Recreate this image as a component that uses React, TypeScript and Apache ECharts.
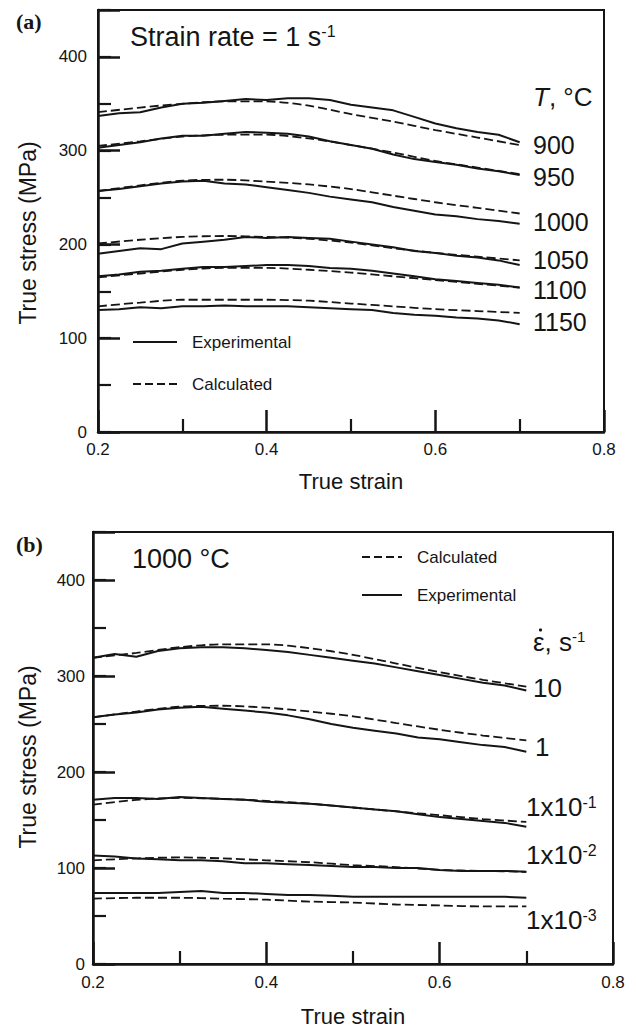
import React, { useEffect, useRef } from "react";
import * as echarts from "echarts";

const FF = '"Liberation Sans", Arial, Helvetica, sans-serif';
const INK = "#151515";

// strain grids
const strainExp = [0.2, 0.225, 0.25, 0.275, 0.3, 0.325, 0.35, 0.375, 0.4, 0.425, 0.45, 0.475, 0.5, 0.525, 0.55, 0.575, 0.6, 0.625, 0.65, 0.675, 0.7];
const strainCalc = [0.2, 0.25, 0.3, 0.35, 0.4, 0.45, 0.5, 0.55, 0.6, 0.65, 0.7];

// Panel (a): strain rate 1 s^-1, temperatures
const tempLabels = ["900", "950", "1000", "1050", "1100", "1150"];
const expA900 = [337, 340, 341, 346, 350, 351, 353, 355, 354, 356, 356, 354, 349, 346, 343, 336, 329, 324, 320, 317, 309];
const expA950 = [303, 306, 309, 313, 316, 316, 318, 320, 319, 318, 315, 310, 306, 302, 296, 291, 288, 285, 281, 278, 274];
const expA1000 = [257, 259, 262, 265, 267, 268, 265, 264, 261, 258, 255, 251, 248, 245, 240, 236, 232, 230, 227, 225, 222];
const expA1050 = [190, 193, 196, 195, 201, 203, 205, 208, 207, 208, 207, 206, 203, 200, 197, 193, 191, 188, 186, 183, 178];
const expA1100 = [166, 168, 171, 172, 174, 176, 176, 177, 178, 178, 177, 175, 174, 172, 169, 166, 163, 161, 159, 157, 154];
const expA1150 = [130, 131, 133, 132, 134, 134, 135, 134, 134, 134, 133, 132, 131, 130, 127, 125, 124, 122, 121, 119, 115];
const calcA900 = [341, 346, 350, 352.5, 352.5, 348, 339, 331, 322, 314, 306];
const calcA950 = [305, 310, 315, 317, 317, 313, 306, 298, 289, 282, 275];
const calcA1000 = [257, 263, 268, 269, 267, 264, 259, 252, 245, 239, 233];
const calcA1050 = [201, 205, 208, 209, 208, 206, 202, 196, 191, 187, 183];
const calcA1100 = [165, 169, 173, 175, 175, 173, 170, 166, 162, 158, 154];
const calcA1150 = [134, 138, 141, 141, 141, 140, 137, 134, 131, 129, 127];

// Panel (b): 1000 °C, strain rates
const rateLabels = ["10", "1", "1x10-1", "1x10-2", "1x10-3"];
const expB10 = [319, 323, 320, 326, 329, 330, 330, 329, 327, 325, 322, 319, 316, 313, 309, 305, 301, 297, 293, 290, 285];
const expB1 = [257, 260, 262, 265, 267, 268, 266, 264, 262, 259, 255, 250, 246, 243, 240, 236, 234, 231, 228, 226, 221];
const expB01 = [171, 173, 173, 172, 174, 173, 172, 171, 169, 168, 167, 165, 163, 161, 159, 156, 153, 151, 149, 147, 143];
const expB001 = [113, 112, 110, 109, 108, 108, 107, 105, 105, 104, 103, 102, 101, 101, 100, 100, 98, 97, 97, 97, 96];
const expB0001 = [74, 74, 74, 74, 75, 76, 74, 74, 73, 72, 72, 71, 70, 70, 70, 70, 70, 70, 70, 70, 69];
const calcB10 = [319, 324, 330, 333, 333, 329, 322, 313, 304, 296, 289];
const calcB1 = [257, 263, 268, 269, 267, 263, 258, 251, 244, 238, 233];
const calcB01 = [166, 171, 173, 172, 170, 167, 163, 159, 155, 151, 148];
const calcB001 = [108, 110, 111, 110, 108, 106, 103, 101, 98, 97, 96];
const calcB0001 = [68, 69, 69, 68, 67, 65, 64, 62, 61, 60, 60];

const xTicks = { min: 0.2, max: 0.8, interval: 0.2 };
const yTicks = { min: 0, max: 450, interval: 100, minor: 50 };

function line(xs: number[], ys: number[], dashed: boolean, xi: number, yi: number) {
  return {
    type: "line",
    xAxisIndex: xi,
    yAxisIndex: yi,
    data: xs.map((x, i) => [x, ys[i]]),
    showSymbol: false,
    symbol: "none",
    smooth: dashed ? 0.3 : false,
    silent: true,
    lineStyle: { color: INK, width: dashed ? 1.8 : 2, type: dashed ? [9, 4] : "solid" },
  };
}

function xAxis(grid: number, margin: number) {
  return {
    gridIndex: grid,
    type: "value",
    min: xTicks.min,
    max: xTicks.max,
    interval: xTicks.interval,
    axisLine: { show: true, onZero: false, lineStyle: { color: INK, width: 2.5 } },
    axisTick: { show: true, inside: true, length: 22, lineStyle: { color: INK, width: 2.5 } },
    minorTick: { show: true, splitNumber: 2, length: 13, lineStyle: { color: INK, width: 2.2 } },
    axisLabel: { margin, fontSize: 17, color: INK, fontFamily: FF },
    splitLine: { show: false },
    minorSplitLine: { show: false },
  };
}

function yAxes(grid: number, margin: number) {
  return [
    {
      gridIndex: grid,
      type: "value",
      position: "left",
      min: yTicks.min,
      max: yTicks.max,
      interval: yTicks.interval,
      axisLine: { show: true, onZero: false, lineStyle: { color: INK, width: 2.5 } },
      axisTick: { show: true, inside: true, length: 22, lineStyle: { color: INK, width: 2.5 } },
      axisLabel: {
        margin,
        fontSize: 17,
        color: INK,
        fontFamily: FF,
        formatter: (v: number) => (v % 100 === 0 ? String(v) : ""),
      },
      splitLine: { show: false },
    },
    {
      gridIndex: grid,
      type: "value",
      position: "left",
      min: yTicks.min,
      max: yTicks.max,
      interval: yTicks.minor,
      axisLine: { show: false },
      axisTick: { show: true, inside: true, length: 13, lineStyle: { color: INK, width: 2.2 } },
      axisLabel: { show: false },
      splitLine: { show: false },
    },
  ];
}

function txt(x: number, y: number, text: string, size: number, extra: any = {}) {
  return {
    type: "text",
    x,
    y,
    silent: true,
    style: { text, fontSize: size, fontFamily: FF, fill: INK, align: "left", verticalAlign: "middle", ...extra },
  };
}

function sup(x: number, y: number, base: string, exp: string, size: number, supSize: number) {
  return {
    type: "text",
    x,
    y,
    silent: true,
    style: {
      text: `{m|${base}}{s|${exp}}`,
      align: "left",
      verticalAlign: "middle",
      rich: {
        m: { fontSize: size, fontFamily: FF, fill: INK, color: INK },
        s: { fontSize: supSize, fontFamily: FF, fill: INK, color: INK, verticalAlign: "top" },
      },
    },
  };
}

function hline(x1: number, x2: number, y: number, dashed: boolean) {
  return {
    type: "line",
    silent: true,
    shape: { x1, y1: y, x2, y2: y },
    style: { stroke: INK, lineWidth: 1.8, lineDash: dashed ? [8, 4] : null },
  };
}

export default function App() {
  const ref = useRef<HTMLDivElement>(null);
  useEffect(() => {
    if (!ref.current) return;
    const chart = echarts.init(ref.current, undefined, { renderer: "svg" });
    const expA = [expA900, expA950, expA1000, expA1050, expA1100, expA1150];
    const calcA = [calcA900, calcA950, calcA1000, calcA1050, calcA1100, calcA1150];
    const expB = [expB10, expB1, expB01, expB001, expB0001];
    const calcB = [calcB10, calcB1, calcB01, calcB001, calcB0001];
    const series: any[] = [];
    expA.forEach((d) => series.push(line(strainExp, d, false, 0, 0)));
    calcA.forEach((d) => series.push(line(strainCalc, d, true, 0, 0)));
    expB.forEach((d) => series.push(line(strainExp, d, false, 1, 2)));
    calcB.forEach((d) => series.push(line(strainCalc, d, true, 1, 2)));

    const tempY = [145, 177, 222, 260, 290, 322];
    const rateY = [688, 747, 807, 855, 920];
    const serif = '"Liberation Serif", "Times New Roman", serif';

    const graphic: any[] = [
      txt(16, 21, "(a)", 22, { fontFamily: serif, fontWeight: "bold" }),
      txt(16, 544, "(b)", 22, { fontFamily: serif, fontWeight: "bold" }),
      { type: "text", x: 28, y: 233, rotation: Math.PI / 2, silent: true, style: { text: "True stress (MPa)", fontSize: 23, fontFamily: FF, fill: INK, align: "center", verticalAlign: "middle" } },
      { type: "text", x: 28, y: 757, rotation: Math.PI / 2, silent: true, style: { text: "True stress (MPa)", fontSize: 23, fontFamily: FF, fill: INK, align: "center", verticalAlign: "middle" } },
      { type: "text", x: 351, y: 481, silent: true, style: { text: "True strain", fontSize: 22, fontFamily: FF, fill: INK, align: "center", verticalAlign: "middle" } },
      { type: "text", x: 353, y: 1016, silent: true, style: { text: "True strain", fontSize: 22, fontFamily: FF, fill: INK, align: "center", verticalAlign: "middle" } },
      sup(130, 37, "Strain rate = 1 s", "-1", 27, 16),
      txt(132, 559, "1000 °C", 27),
      hline(133, 177, 342, false),
      txt(192, 342, "Experimental", 17),
      hline(133, 177, 384, true),
      txt(192, 384, "Calculated", 17),
      hline(362, 402, 557, true),
      txt(417, 557, "Calculated", 17),
      hline(362, 402, 595, false),
      txt(417, 595, "Experimental", 17),
      {
        type: "text", x: 533, y: 97, silent: true,
        style: {
          text: "{i|T}{m|, °C}", align: "left", verticalAlign: "middle",
          rich: {
            i: { fontSize: 26, fontFamily: FF, fontStyle: "italic", fill: INK },
            m: { fontSize: 26, fontFamily: FF, fill: INK },
          },
        },
      },
      ...tempLabels.map((t, i) => txt(533, tempY[i], t, 25)),
      sup(533, 642, "ε, s", "-1", 26, 15),
      { type: "circle", silent: true, shape: { cx: 540.5, cy: 630, r: 1.6 }, style: { fill: INK } },
      txt(533, rateY[0], rateLabels[0], 26),
      txt(535, rateY[1], rateLabels[1], 26),
      sup(526, rateY[2], "1x10", "-1", 26, 16),
      sup(526, rateY[3], "1x10", "-2", 26, 16),
      sup(526, rateY[4], "1x10", "-3", 26, 16),
    ];

    chart.setOption({
      animation: false,
      backgroundColor: "#ffffff",
      grid: [
        { left: 98, top: 10, width: 506, height: 422, show: true, borderColor: INK, borderWidth: 2, backgroundColor: "transparent" },
        { left: 93, top: 532, width: 520, height: 432, show: true, borderColor: INK, borderWidth: 2, backgroundColor: "transparent" },
      ],
      xAxis: [xAxis(0, 9), xAxis(1, 10)],
      yAxis: [...yAxes(0, 11), ...yAxes(1, 8)],
      series,
      graphic,
    });
    return () => chart.dispose();
  }, []);
  return <div ref={ref} style={{ position: "absolute", left: 0, top: 0, width: 636, height: 1031 }} />;
}
